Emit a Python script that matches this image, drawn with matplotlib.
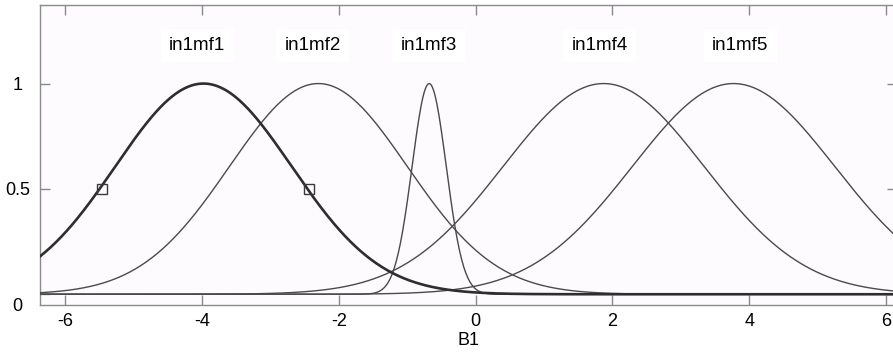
import numpy as np
import matplotlib
matplotlib.use("Agg")
import matplotlib.pyplot as plt
import matplotlib.transforms as mtransforms

plt.rcParams['font.family'] = ['Liberation Sans', 'DejaVu Sans']

# gaussmf parameters: [sigma, center]
mf_names = ["in1mf1", "in1mf2", "in1mf3", "in1mf4", "in1mf5"]
mf_centers = [-3.98, -2.30, -0.68, 1.87, 3.77]
mf_sigmas = [1.29, 1.30, 0.25, 1.47, 1.48]
label_x = [-4.07, -2.38, -0.69, 1.81, 3.87]
label_y = 1.18

# selected mf1 half-height markers
marker_x = [-5.47, -2.43]
marker_y = [0.5, 0.5]

x_ticks = [-6, -4, -2, 0, 2, 4, 6]
y_ticks = [0, 0.5, 1]
y_ticklabels = ["0", "0.5", "1"]

fig = plt.figure(figsize=(8.93, 3.54), dpi=100)
ax = fig.add_axes([0.0448, 0.139, 0.9597, 0.847])
ax.set_facecolor('#fdfbfd')

x = np.linspace(-6.37, 6.16, 800)
for i in range(len(mf_names)):
    y = np.exp(-(x - mf_centers[i]) ** 2 / (2 * mf_sigmas[i] ** 2))
    if i == 0:
        ax.plot(x, y, color='#2e2e2e', lw=1.9, zorder=4)
    else:
        ax.plot(x, y, color='#4a4a4a', lw=1.0, zorder=3)
    ax.text(label_x[i], label_y, mf_names[i], ha='center', va='center',
            fontsize=13.5, color='black',
            bbox=dict(facecolor='white', edgecolor='none', pad=6))

ax.plot(marker_x, marker_y, linestyle='none', marker='s', markersize=7,
        markerfacecolor='none', markeredgecolor='#3a3a3a', markeredgewidth=1.0,
        zorder=5)

ax.set_xlim(-6.37, 6.16)
ax.set_ylim(-0.05, 1.373)
ax.set_xticks(x_ticks)
ax.set_xticklabels([str(t) for t in x_ticks])
ax.set_yticks(y_ticks)
ax.set_yticklabels(y_ticklabels)
ax.tick_params(direction='in', length=7.5, width=1.0, color='#8a8a8a',
               top=True, right=True, labelsize=13, pad=6)
ax.tick_params(axis='y', pad=16)
for lbl in ax.get_yticklabels():
    lbl.set_horizontalalignment('center')

# the "0" label sits a little lower than its tick in the original
lbl0 = ax.get_yticklabels()[0]
lbl0.set_transform(lbl0.get_transform() +
                   mtransforms.ScaledTranslation(0, -10 / 100, fig.dpi_scale_trans))

for sp in ax.spines.values():
    sp.set_color('#8a8a8a')
    sp.set_linewidth(1.0)

ax.set_xlabel("B1", fontsize=13, labelpad=1)

fig.savefig("out.png", dpi=100, facecolor='white')
